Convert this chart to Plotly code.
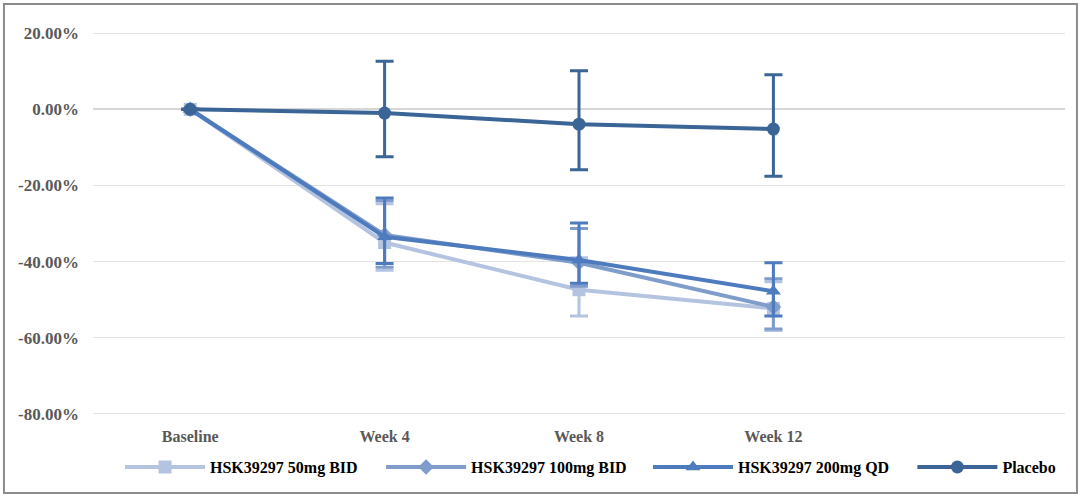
import plotly.graph_objects as go

categories = ["Baseline", "Week 4", "Week 8", "Week 12"]
x_pos = [0, 1, 2, 3]

series_names = ["HSK39297 50mg BID", "HSK39297 100mg BID", "HSK39297 200mg QD", "Placebo"]
mean_50 = [0.0, -35.0, -47.4, -52.3]
err_50_plus = [0.0, 10.2, 8.4, 7.0]
err_50_minus = [0.0, 7.3, 6.9, 5.8]
mean_100 = [0.0, -33.0, -40.3, -51.9]
err_100_plus = [0.0, 9.0, 9.0, 7.4]
err_100_minus = [0.0, 8.5, 6.2, 5.8]
mean_200 = [0.0, -33.5, -39.6, -47.8]
err_200_plus = [0.0, 10.2, 9.7, 7.5]
err_200_minus = [0.0, 7.0, 6.1, 6.5]
mean_pla = [0.0, -1.0, -3.9, -5.2]
err_pla_plus = [0.0, 13.6, 14.0, 14.3]
err_pla_minus = [0.0, 11.5, 12.0, 12.4]

y_ticks = [20, 0, -20, -40, -60, -80]
y_tick_labels = ["20.00%", "0.00%", "-20.00%", "-40.00%", "-60.00%", "-80.00%"]

colors = ["#B4C4E0", "#7F9CCB", "#4D7BBD", "#3B6497"]
symbols = ["square", "diamond", "triangle-up", "circle"]
sizes = [13, 12, 13, 13]
legend_ids = ["legend", "legend2", "legend3", "legend4"]
legend_x = [0.0278, 0.2964, 0.571, 0.843]

font_family = "Liberation Serif"

fig = go.Figure()
for name, m, ep, em, c, s, sz, lg in zip(
        series_names,
        [mean_50, mean_100, mean_200, mean_pla],
        [err_50_plus, err_100_plus, err_200_plus, err_pla_plus],
        [err_50_minus, err_100_minus, err_200_minus, err_pla_minus],
        colors, symbols, sizes, legend_ids):
    fig.add_trace(go.Scatter(
        x=x_pos, y=m, name=name, mode="lines+markers", legend=lg,
        line=dict(color=c, width=4),
        marker=dict(symbol=s, size=sz, color=c),
        error_y=dict(type="data", array=ep, arrayminus=em, symmetric=False, color=c,
                     thickness=3, width=9),
    ))

legend_common = dict(orientation="h", xanchor="left", y=-0.136, yanchor="middle",
                     font=dict(family=font_family, size=16, color="#000000", weight="bold"),
                     itemwidth=80, bgcolor="rgba(0,0,0,0)")

fig.update_layout(
    width=1080, height=498,
    margin=dict(l=93, r=15, t=32, b=83, autoexpand=False),
    paper_bgcolor="white", plot_bgcolor="white",
    font=dict(family=font_family, size=16, color="#000000"),
    showlegend=True,
    legend=dict(x=legend_x[0], **legend_common),
    legend2=dict(x=legend_x[1], **legend_common),
    legend3=dict(x=legend_x[2], **legend_common),
    legend4=dict(x=legend_x[3], **legend_common),
    xaxis=dict(range=[-0.5, 4.5], tickvals=x_pos, ticktext=categories,
               showgrid=False, zeroline=False, showline=False, ticks="",
               automargin=False, ticklabelstandoff=10,
               tickfont=dict(family=font_family, size=16, color="#595959", weight="bold")),
    yaxis=dict(range=[-80.3, 20.3], tickvals=y_ticks, ticktext=y_tick_labels,
               showgrid=True, gridcolor="#E3E3E3", gridwidth=1,
               zeroline=True, zerolinecolor="#D6D6D6", zerolinewidth=2,
               showline=False, ticks="", ticklabelstandoff=13, automargin=False,
               tickfont=dict(family=font_family, size=17, color="#595959", weight="bold")),
    shapes=[dict(type="rect", xref="paper", yref="paper",
                 x0=-0.0916, x1=1.0123, y0=-0.2037, y1=1.073,
                 line=dict(color="#8C8C8C", width=2), fillcolor="rgba(0,0,0,0)", layer="below")],
)

fig.write_html("out.html", config={"displayModeBar": False},
               post_script="document.body.style.margin='0';document.body.style.overflow='hidden';")
